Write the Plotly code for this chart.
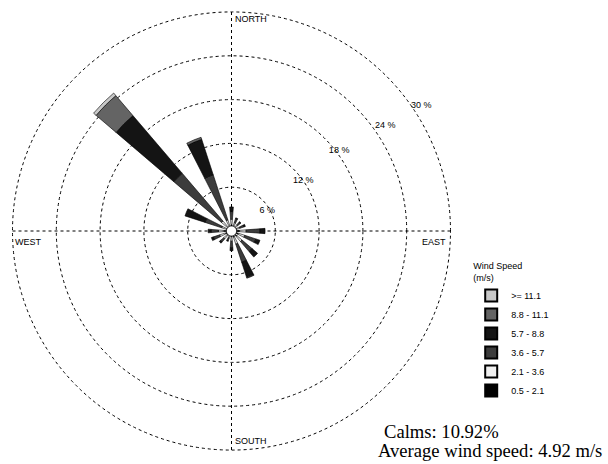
import plotly.graph_objects as go

directions = [0, 22.5, 45, 67.5, 90, 112.5, 135, 157.5, 180, 202.5, 225, 247.5, 270, 292.5, 315, 337.5]
classes = ["0.5 - 2.1", "2.1 - 3.6", "3.6 - 5.7", "5.7 - 8.8", "8.8 - 11.1", ">= 11.1"]
colors = ["#000000", "#f0f0f0", "#3c3c3c", "#141414", "#646464", "#c8c8c8"]

c_05_21 = [0.9, 0.7, 0.6, 0.7, 1.1, 1.0, 1.0, 0.9, 0.8, 0.6, 0.8, 0.9, 1.0, 0.6, 0.6, 0.6]
c_21_36 = [0.7, 0.5, 0.5, 0.5, 0.9, 0.9, 0.9, 1.0, 0.6, 0.4, 0.6, 0.8, 0.8, 0.8, 1.2, 1.0]
c_36_57 = [1.1, 0.6, 0.5, 0.6, 1.9, 1.6, 1.8, 2.6, 0.9, 0.4, 0.6, 0.9, 1.0, 2.4, 8.6, 6.5]
c_57_88 = [0.6, 0.1, 0.1, 0.2, 0.7, 0.6, 1.0, 2.2, 0.4, 0.1, 0.2, 0.3, 0.4, 2.9, 10.4, 5.1]
c_88_111 = [0.0, 0.0, 0.0, 0.0, 0.0, 0.0, 0.0, 0.1, 0.0, 0.0, 0.0, 0.0, 0.0, 0.0, 3.6, 0.3]
c_111 = [0.0, 0.0, 0.0, 0.0, 0.0, 0.0, 0.0, 0.0, 0.0, 0.0, 0.0, 0.0, 0.0, 0.0, 0.45, 0.0]
series = [c_05_21, c_21_36, c_36_57, c_57_88, c_88_111, c_111]

calm_radius = 0.7
radial_ticks = [6, 12, 18, 24, 30]
radial_labels = ["6 %", "12 %", "18 %", "24 %", "30 %"]
compass = ["NORTH", "EAST", "SOUTH", "WEST"]

sans = dict(family="Liberation Sans, Arial", size=9, color="#000")

fig = go.Figure()
for name, vals, col in zip(classes, series, colors):
    fig.add_trace(go.Barpolar(
        r=vals, theta=directions, name=name, width=9,
        marker=dict(color=col, line=dict(color="#000000", width=0.6)),
    ))

# calm circle
fig.add_trace(go.Scatterpolar(
    r=[calm_radius] * 73, theta=[i * 5 for i in range(73)], mode="lines",
    fill="toself", fillcolor="white",
    line=dict(color="#000000", width=1), showlegend=False, hoverinfo="skip",
))

# radial ring labels
fig.add_trace(go.Scatterpolar(
    r=radial_ticks, theta=[55] * len(radial_ticks), mode="text", text=radial_labels,
    textfont=sans,
    textposition=["bottom center", "middle center", "top center", "top right", "middle right"],
    showlegend=False, hoverinfo="skip", cliponaxis=False,
))

R = 221.19
cx, cy = 231.5, 231.0
fig.update_layout(
    width=608, height=464,
    margin=dict(l=0, r=0, t=0, b=0),
    paper_bgcolor="white", plot_bgcolor="white",
    showlegend=True,
    legend=dict(
        x=0.775, y=0.445, xanchor="left", yanchor="top",
        traceorder="reversed",
        title=dict(text="Wind Speed<br>(m/s)", font=sans),
        font=sans, itemsizing="constant", tracegroupgap=0, bgcolor="rgba(0,0,0,0)",
    ),
    polar=dict(
        domain=dict(x=[(cx - R) / 608, (cx + R) / 608], y=[1 - (cy + R) / 464, 1 - (cy - R) / 464]),
        bgcolor="white",
        hole=0,
        barmode="stack",
        radialaxis=dict(
            range=[0, 30.3], tickvals=radial_ticks, showticklabels=False,
            showline=False, ticks="",
            gridcolor="#000000", griddash="3px,3px", gridwidth=1,
        ),
        angularaxis=dict(
            direction="clockwise", rotation=90,
            tickvals=[0, 90, 180, 270], showticklabels=False,
            showline=False, ticks="",
            gridcolor="#000000", griddash="3px,3px", gridwidth=1,
        ),
    ),
    font=sans,
)

fig.add_annotation(x=233 / 608, y=1 - 19 / 464, xref="paper", yref="paper", text=compass[0],
                   showarrow=False, xanchor="left", yanchor="middle", font=sans)
fig.add_annotation(x=448 / 608, y=1 - 242 / 464, xref="paper", yref="paper", text=compass[1],
                   showarrow=False, xanchor="right", yanchor="middle", font=sans)
fig.add_annotation(x=233 / 608, y=1 - 441 / 464, xref="paper", yref="paper", text=compass[2],
                   showarrow=False, xanchor="left", yanchor="middle", font=sans)
fig.add_annotation(x=13 / 608, y=1 - 242 / 464, xref="paper", yref="paper", text=compass[3],
                   showarrow=False, xanchor="left", yanchor="middle", font=sans)

serif = dict(family="Liberation Serif, Times New Roman", size=18.6, color="#000")
fig.add_annotation(x=382 / 608, y=1 - 431 / 464, xref="paper", yref="paper", text="Calms: 10.92%",
                   showarrow=False, xanchor="left", yanchor="middle", font=serif)
fig.add_annotation(x=376 / 608, y=1 - 450 / 464, xref="paper", yref="paper", text="Average wind speed: 4.92 m/s",
                   showarrow=False, xanchor="left", yanchor="middle", font=serif)

fig.write_html("out.html", config={"displayModeBar": False},
               post_script="document.body.style.margin='0';")
